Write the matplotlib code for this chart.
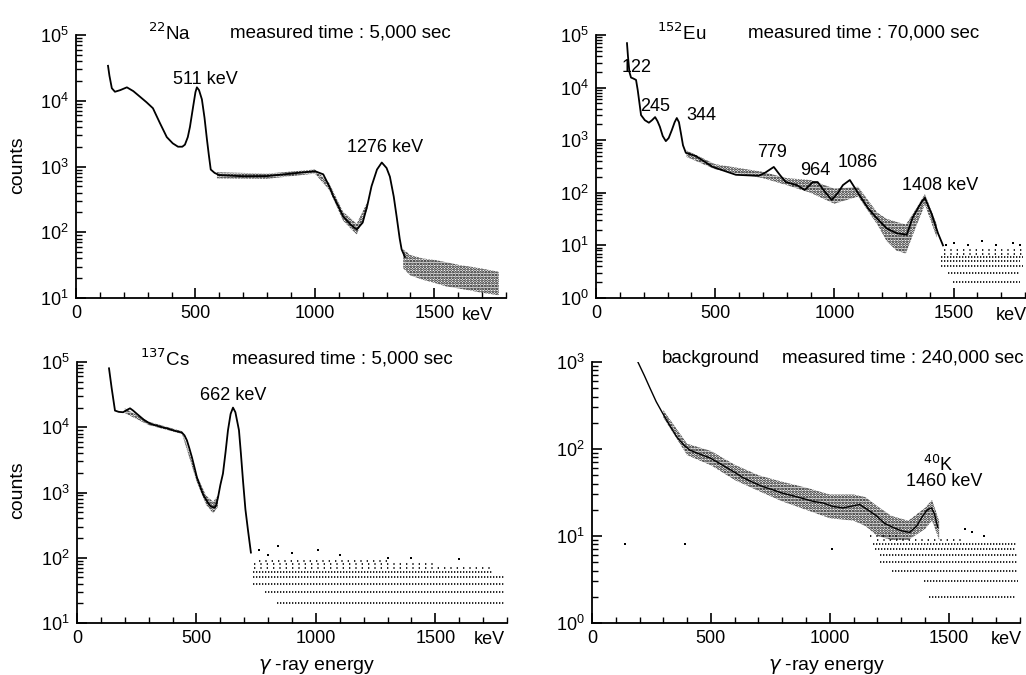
import numpy as np
import matplotlib
matplotlib.use('Agg')
import matplotlib.pyplot as plt
from matplotlib.ticker import LogLocator, MultipleLocator, FuncFormatter, NullFormatter
import matplotlib.transforms as mtransforms

plt.rcParams['font.family'] = ['Liberation Sans', 'DejaVu Sans']
plt.rcParams['mathtext.fontset'] = 'dejavusans'
plt.rcParams['hatch.linewidth'] = 1.3

# ── spectra (energy keV, counts) ─────────────────────────────────────────────
# 22Na
na_e = [134, 140, 150, 163, 185, 213, 240, 268, 295, 322, 351, 380, 405, 427, 445,
        456, 468, 477, 490, 500, 506, 515, 527, 538, 548, 556, 564, 580, 600, 700,
        800, 900, 960, 1000, 1035, 1060, 1076, 1100, 1118, 1150, 1175, 1200, 1220,
        1237, 1260, 1280, 1300, 1314, 1330, 1342, 1355, 1363, 1377]
na_c = [34000, 24000, 15500, 13700, 14500, 16000, 14000, 11500, 9500, 7700, 4600,
        2800, 2250, 2000, 2000, 2150, 2800, 4000, 8000, 13500, 16000, 14500, 10500,
        5500, 2600, 1500, 900, 800, 740, 710, 715, 780, 820, 850, 760, 500, 360, 240,
        175, 130, 110, 140, 260, 500, 900, 1150, 950, 700, 350, 175, 80, 55, 42]
na_band_e = [590, 800, 1000, 1060, 1118, 1175, 1220]
na_band_lo = [660, 650, 780, 440, 150, 92, 225]
na_band_hi = [820, 780, 900, 560, 205, 135, 290]
na_tail_e = [1370, 1400, 1450, 1500, 1550, 1600, 1650, 1700, 1770]
na_tail_lo = [28, 22, 19, 17, 15, 14, 13, 12, 11]
na_tail_hi = [55, 45, 40, 38, 35, 32, 30, 28, 25]

# 152Eu
eu_e = [130, 134, 140, 147, 155, 168, 175, 189, 205, 222, 235, 248, 258, 268, 280,
        293, 305, 318, 330, 339, 348, 356, 365, 377, 419, 490, 587, 683, 709, 746,
        771, 796, 843, 876, 910, 930, 960, 989, 1015, 1036, 1065, 1099, 1141, 1178,
        1220, 1262, 1304, 1330, 1366, 1380, 1408, 1435, 1456]
eu_c = [70000, 40000, 20000, 15500, 15000, 14000, 9000, 3000, 2400, 2150, 2400, 2750,
        2300, 1800, 1200, 960, 1100, 1550, 2200, 2640, 2200, 1380, 800, 575, 500, 310,
        220, 210, 240, 310, 220, 160, 140, 113, 160, 160, 105, 73, 100, 140, 175, 100,
        51, 33, 21, 17, 16, 35, 67, 80, 40, 17, 10]
eu_band_e = [380, 500, 700, 800, 900, 1000, 1100, 1180, 1220, 1260, 1300, 1330, 1380, 1430]
eu_band_lo = [480, 280, 190, 140, 100, 62, 85, 25, 12, 8, 7, 16, 60, 14]
eu_band_hi = [640, 350, 250, 190, 175, 120, 130, 42, 32, 28, 25, 40, 95, 25]
eu_rows = [2, 3, 4, 5, 6, 7, 8]
eu_row_start = [1497, 1476, 1448, 1448, 1448, 1460, 1460]
eu_row_end = [1778, 1778, 1790, 1780, 1790, 1790, 1790]
eu_dots_e = [1470, 1500, 1560, 1620, 1680, 1750, 1780]
eu_dots_c = [10, 11, 10, 12, 10, 11, 10]

# 137Cs
cs_e = [134, 145, 159, 175, 193, 210, 222, 235, 251, 280, 305, 340, 377, 410, 439,
        450, 460, 470, 481, 492, 502, 515, 527, 540, 556, 566, 577, 583, 590, 600,
        611, 622, 632, 643, 653, 663, 678, 686, 695, 705, 716, 728]
cs_c = [80000, 40000, 18000, 17200, 17000, 18500, 19500, 18000, 16000, 13000, 11400,
        10400, 9600, 8800, 8300, 7500, 6300, 4800, 3470, 2400, 1700, 1250, 950, 780,
        630, 600, 590, 650, 830, 1300, 1950, 4200, 9000, 16000, 20000, 17000, 9000,
        4000, 1500, 550, 260, 120]
cs_band_e = [200, 300, 440, 500, 540, 570, 590]
cs_band_lo = [16500, 10800, 7900, 1500, 650, 480, 600]
cs_band_hi = [19500, 12200, 8700, 1900, 900, 720, 900]
cs_rows = [20, 30, 40, 50, 60, 70, 80, 90]
cs_row_start = [837, 787, 736, 736, 736, 740, 740, 760]
cs_row_end = [1790, 1790, 1790, 1790, 1740, 1740, 1500, 1300]
cs_dots_e = [760, 800, 840, 900, 1010, 1100, 1300, 1400, 1600]
cs_dots_c = [130, 110, 150, 120, 130, 110, 100, 100, 95]

# background
bg_e = [193, 220, 244, 270, 298, 330, 357, 385, 412, 450, 496, 530, 567, 600, 634,
        680, 718, 760, 802, 845, 887, 930, 971, 1010, 1055, 1090, 1126, 1160, 1197,
        1230, 1265, 1300, 1336, 1365, 1391, 1410, 1428, 1440, 1454]
bg_c = [1000, 700, 500, 350, 255, 180, 137, 112, 97, 88, 79, 70, 61, 54, 47, 41, 37,
        34, 31, 29, 27, 25, 24, 22, 21, 22, 23, 20, 17, 14, 12.6, 11.5, 11, 13, 17, 20,
        21, 18, 12.6]
bg_band_e = [300, 400, 500, 600, 700, 800, 900, 1000, 1100, 1150, 1200, 1260, 1330, 1400, 1430, 1460]
bg_band_lo = [230, 85, 65, 44, 33, 25, 20, 16, 15, 13, 10, 9, 9, 12, 15, 9]
bg_band_hi = [280, 115, 95, 66, 50, 42, 36, 30, 30, 28, 22, 17, 15, 21, 26, 15]
bg_rows = [2, 3, 4, 5, 6, 7, 8, 9, 10]
bg_row_start = [1417, 1395, 1262, 1210, 1210, 1190, 1180, 1200, 1170]
bg_row_end = [1780, 1790, 1790, 1790, 1790, 1785, 1785, 1560, 1300]
bg_dots_e = [139, 391, 1008, 1570, 1600, 1650]
bg_dots_c = [8, 8, 7, 12, 11, 10]

W, H = 1026, 675
fig = plt.figure(figsize=(W / 100, H / 100), dpi=100)


def make_ax(l, r, t, b, ylim):
    ax = fig.add_axes([l / W, 1 - b / H, (r - l) / W, (b - t) / H])
    ax.set_xlim(0, 1800)
    ax.set_ylim(*ylim)
    ax.set_yscale('log')
    for s in ('top', 'right'):
        ax.spines[s].set_visible(False)
    for s in ('left', 'bottom'):
        ax.spines[s].set_linewidth(1.3)
    ax.yaxis.set_major_locator(LogLocator(base=10, numticks=10))
    ax.yaxis.set_minor_locator(LogLocator(base=10, subs=np.arange(2, 10), numticks=20))
    ax.yaxis.set_minor_formatter(NullFormatter())
    ax.yaxis.set_major_formatter(FuncFormatter(
        lambda v, p: r'$\mathregular{10^{%d}}$' % round(np.log10(v))))
    ax.set_xticks([0, 500, 1000, 1500])
    ax.xaxis.set_minor_locator(MultipleLocator(100))
    ax.tick_params(which='major', direction='in', length=7, width=1.2,
                   labelsize=13, pad=5)
    ax.tick_params(which='minor', direction='in', length=4, width=1.0)
    ax.tick_params(axis='y', pad=5)
    return ax


def band(ax, e, lo, hi):
    ax.fill_between(e, lo, hi, facecolor='none', edgecolor='black',
                    hatch='......', linewidth=0)


def rows(ax, levels, start, end, sparse_from):
    for i, (lv, a, b) in enumerate(zip(levels, start, end)):
        gap = 1.0 if i < sparse_from else 3.0
        ax.plot([a, b], [lv, lv], color='black', lw=1.2,
                linestyle=(0, (0.8, gap)))


def ktext(ax, x, yfrac, s):
    tr = mtransforms.blended_transform_factory(ax.transData, ax.transAxes)
    ax.text(x, yfrac, s, transform=tr, ha='center', va='center', fontsize=13,
            clip_on=False)


lw_curve = 1.3
fs = 13.5

# ── 22Na ─────────────────────────────────────────────────────────────────────
ax1 = make_ax(76, 506, 35, 298, (10, 1e5))
ax1.plot(na_e, na_c, color='black', lw=lw_curve)
band(ax1, na_band_e, na_band_lo, na_band_hi)
band(ax1, na_tail_e, na_tail_lo, na_tail_hi)
ax1.text(301, 1.07e5, r'$^{22}$Na', fontsize=fs, ha='left', va='center', clip_on=False)
ax1.text(644, 1.07e5, 'measured time : 5,000 sec', fontsize=fs, ha='left',
         va='center', clip_on=False)
ax1.text(540, 2.1e4, '511 keV', fontsize=13, ha='center', va='center')
ax1.text(1293, 1950, '1276 keV', fontsize=13, ha='center', va='center')
ktext(ax1, 1682, -0.065, 'keV')

# ── 152Eu ────────────────────────────────────────────────────────────────────
ax2 = make_ax(596, 1025, 35, 298, (1, 1e5))
ax2.plot(eu_e, eu_c, color='black', lw=lw_curve)
band(ax2, eu_band_e, eu_band_lo, eu_band_hi)
rows(ax2, eu_rows, eu_row_start, eu_row_end, 5)
ax2.plot(eu_dots_e, eu_dots_c, 's', color='black', ms=1.5, mew=0)
ax2.text(256, 1.08e5, r'$^{152}$Eu', fontsize=fs, ha='left', va='center', clip_on=False)
ax2.text(637, 1.08e5, 'measured time : 70,000 sec', fontsize=fs, ha='left',
         va='center', clip_on=False)
for e, c, s in [(171, 2.45e4, '122'), (247, 4.3e3, '245'), (444, 3.0e3, '344'),
                (738, 575, '779'), (918, 270, '964'), (1099, 370, '1086'),
                (1442, 140, '1408 keV')]:
    ax2.text(e, c, s, fontsize=13, ha='center', va='center')
ktext(ax2, 1744, -0.065, 'keV')

# ── 137Cs ────────────────────────────────────────────────────────────────────
ax3 = make_ax(77, 507, 362, 623, (10, 1e5))
ax3.plot(cs_e, cs_c, color='black', lw=lw_curve)
band(ax3, cs_band_e, cs_band_lo, cs_band_hi)
rows(ax3, cs_rows, cs_row_start, cs_row_end, 5)
ax3.plot(cs_dots_e, cs_dots_c, 's', color='black', ms=1.5, mew=0)
ax3.text(264, 1.12e5, r'$^{137}$Cs', fontsize=fs, ha='left', va='center', clip_on=False)
ax3.text(648, 1.12e5, 'measured time : 5,000 sec', fontsize=fs, ha='left',
         va='center', clip_on=False)
ax3.text(653, 3.1e4, '662 keV', fontsize=13, ha='center', va='center')
ktext(ax3, 1728, -0.065, 'keV')

# ── background ───────────────────────────────────────────────────────────────
ax4 = make_ax(592, 1020, 362, 623, (1, 1e3))
ax4.plot(bg_e, bg_c, color='black', lw=1.0)
band(ax4, bg_band_e, bg_band_lo, bg_band_hi)
rows(ax4, bg_rows, bg_row_start, bg_row_end, 7)
ax4.plot(bg_dots_e, bg_dots_c, 's', color='black', ms=1.5, mew=0)
ax4.text(294, 1.1e3, 'background', fontsize=fs, ha='left', va='center', clip_on=False)
ax4.text(798, 1.1e3, 'measured time : 240,000 sec', fontsize=fs, ha='left',
         va='center', clip_on=False)
ax4.text(1391, 66, r'$^{40}$K', fontsize=13, ha='left', va='center')
ax4.text(1483, 42, '1460 keV', fontsize=13, ha='center', va='center')
ktext(ax4, 1744, -0.065, 'keV')

# axis titles
fig.text(18 / W, 1 - 165 / H, 'counts', rotation=90, ha='center', va='center', fontsize=14)
fig.text(18 / W, 1 - 490 / H, 'counts', rotation=90, ha='center', va='center', fontsize=14)
fig.text(317 / W, 1 - 666 / H, r'$\gamma$ -ray energy', ha='center', va='center', fontsize=14)
fig.text(827 / W, 1 - 666 / H, r'$\gamma$ -ray energy', ha='center', va='center', fontsize=14)

fig.savefig('out.png', dpi=100, facecolor='white')
